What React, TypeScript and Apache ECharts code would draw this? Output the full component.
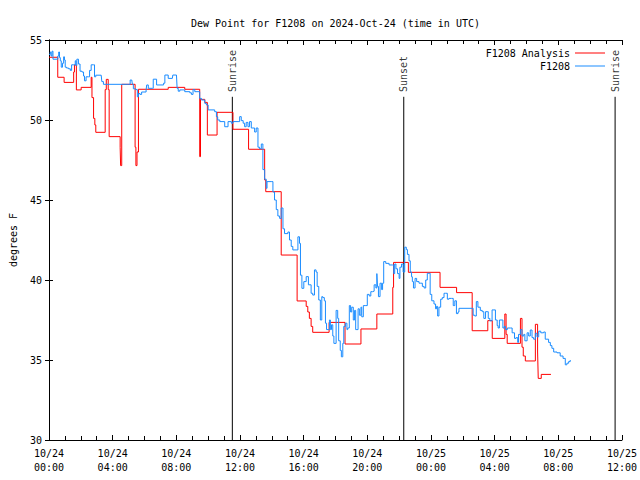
import React, { useEffect, useRef } from "react";
import * as echarts from "echarts";

// hours since 2024-10-24 00:00 UTC
const analysisHours = [
  0, 0.55, 0.95, 1.55, 1.6, 1.72, 2.02, 2.65, 2.7, 2.8, 2.88, 2.94, 3.53, 3.6, 3.72, 3.78,
  4.47, 4.5, 4.57, 5.41, 5.46, 5.53, 5.62, 7.49, 8.53, 9.47, 9.52, 9.79, 9.95, 10.56,
  11.56, 12.54, 13.55, 13.62, 14.59, 15.59, 16.16, 16.26, 16.36, 16.47, 16.57, 17.6,
  18.6, 19.6, 20.6, 21.6, 21.65, 22.58, 24.57, 25.61, 26.59, 27.57, 27.85, 28.64, 28.72,
  28.79, 29.62, 29.72, 29.8, 29.93, 30.56, 30.7, 30.74, 30.93, 31.54,
];
const analysisValues = [
  53.92, 52.67, 52.35, 53.0, 53.44, 51.88, 52.04, 52.67, 51.4, 50.1, 49.69, 49.23, 51.9, 52.54, 51.9, 48.96,
  48.3, 47.15, 52.23, 48.3, 47.15, 48.0, 51.92, 52.04, 51.92, 47.71, 51.29, 51.1, 49.06, 50.48,
  49.42, 48.17, 46.25, 45.52, 41.56, 38.69, 38.35, 38.0, 37.6, 37.1, 36.73, 37.35,
  36.0, 36.94, 37.875, 39.54, 41.1, 40.48, 39.54, 39.21, 36.83, 37.46, 36.35, 37.875, 36.6,
  36.04, 37.6, 35.8, 35.25, 34.94, 37.23, 35.5, 33.85, 34.1, 34.1,
];

const obsHours = [
  0, 0.08, 0.13, 0.19, 0.25, 0.5, 0.55, 0.61, 0.66, 0.71, 0.77, 0.85, 0.92, 0.97, 1.02, 1.1,
  1.23, 1.34, 1.42, 1.55, 1.65, 1.7, 1.75, 1.85, 1.95, 2.07, 2.17, 2.23, 2.33, 2.48, 2.55,
  2.65, 2.8, 2.86, 2.94, 3.28, 3.32, 3.42, 4.99, 5.1, 5.2, 5.24, 5.3, 5.45, 5.55, 5.62, 5.72,
  5.82, 6.1, 6.14, 6.24, 6.5, 6.55, 6.76, 7.1, 7.2, 7.28, 7.49, 7.75, 7.78, 8.01, 8.05, 8.12,
  8.22, 8.53, 8.85, 8.95, 9.05, 9.16, 9.47, 9.58, 9.79, 9.89, 10.0, 10.41, 10.52, 10.6, 10.73,
  11.04, 11.25, 11.46, 11.56, 11.88, 11.98,
  12.08, 12.2, 12.29, 12.39, 12.5, 12.6, 12.71, 12.81, 12.92, 13.02, 13.13, 13.23, 13.34,
  13.44, 13.55, 13.65, 13.7, 13.96, 14.07, 14.17, 14.28, 14.38, 14.49, 14.59, 14.7, 14.8,
  15.01, 15.11, 15.22, 15.32, 15.53, 15.64, 15.74, 15.8, 15.89, 16.01, 16.16, 16.3, 16.47,
  16.57, 16.68, 16.78, 16.85, 16.95, 17.05, 17.14,
  17.2, 17.3, 17.37, 17.44, 17.55, 17.62, 17.68, 17.75, 17.83, 17.9, 18.04, 18.14, 18.2,
  18.3, 18.37, 18.46, 18.52, 18.62, 18.72, 18.77, 18.87, 18.95, 19.02, 19.12, 19.2, 19.27,
  19.35, 19.42, 19.5, 19.6, 19.65, 19.75, 19.91, 20.0, 20.12, 20.22, 20.33, 20.43, 20.54,
  20.6, 20.64, 20.7, 20.8, 20.9, 20.96, 21.03, 21.16, 21.37, 21.58, 21.66, 21.72, 21.8,
  21.9, 22.0, 22.05, 22.15, 22.25, 22.35, 22.45, 22.52, 22.62, 22.7, 22.78, 22.83, 22.9,
  23.0, 23.1, 23.25, 23.36,
  23.46, 23.57, 23.67, 23.77, 23.88, 23.95, 24.05, 24.19, 24.29, 24.35, 24.42, 24.5, 24.61,
  24.71, 24.82, 24.92, 25.03, 25.13, 25.3, 25.4, 25.5, 25.6, 25.7, 25.76, 26.59, 26.65,
  26.75, 26.85, 26.95, 27.1, 27.22, 27.32, 27.43, 27.53, 27.6, 27.7, 27.84, 27.95, 28.05,
  28.16, 28.22, 28.3, 28.4, 28.52, 28.6, 28.68, 28.8, 28.99, 29.1, 29.25, 29.35, 29.45,
  29.5, 29.62, 29.72, 29.83, 29.9, 30.04, 30.14, 30.24, 30.35, 30.45, 30.56, 30.66, 30.77,
  30.9, 31.08, 31.18, 31.29, 31.39, 31.5, 31.6, 31.71, 31.92, 32.12, 32.3, 32.44, 32.54,
  32.65, 32.75,
];
const obsValues = [
  54.1, 54.25, 54.0, 54.3, 53.8, 53.8, 54.0, 54.25, 53.9, 53.7, 53.3, 53.55, 53.95, 53.75, 53.3, 53.25,
  53.2, 53.1, 53.45, 53.45, 53.7, 53.4, 53.8, 53.5, 53.05, 53.0, 52.75, 52.45, 52.7, 52.7, 53.1,
  53.45, 53.45, 52.7, 52.8, 52.8, 52.4, 52.23, 52.23, 52.5, 52.5, 52.23, 51.95, 51.9, 51.45, 51.65, 51.6,
  51.75, 51.88, 52.19, 51.98, 51.98, 52.55, 52.19, 52.19, 52.3, 52.81, 52.6, 52.6, 52.81, 52.81, 51.98, 51.8,
  51.88, 51.77, 51.7, 51.6, 51.9, 51.77, 51.35, 51.25, 51.04, 50.94, 50.63, 50.52, 50.2, 50.0, 49.9,
  49.58, 49.9, 49.8, 49.9, 49.9, 50.21,
  49.96, 49.8, 49.58, 49.85, 49.58, 49.9, 49.5, 49.5, 49.25, 49.5, 48.3, 48.2, 48.5,
  46.9, 46.3, 45.73, 46.15, 46.15, 45.5, 45.0, 44.4, 44.0, 43.85, 44.5, 43.2, 42.9,
  43.0, 42.5, 42.1, 41.88, 41.88, 42.7, 42.29, 40.3, 39.48, 39.9, 40.21, 39.7, 39.17,
  39.06, 40.63, 40.5, 39.6, 38.75, 37.5, 38.96,
  38.9, 38.7, 37.3, 36.9, 36.9, 37.5, 36.9, 37.2, 36.5, 36.04, 38.1, 37.6, 36.2,
  35.6, 35.2, 36.04, 37.1, 37.3, 36.9, 37.0, 38.4, 38.0, 38.3, 37.5, 38.1, 36.9,
  36.9, 38.2, 37.8, 38.3, 37.7, 38.4, 38.4, 39.1, 39.0, 39.27, 39.3, 39.7, 39.5,
  40.4, 39.6, 38.96, 39.8, 39.4, 39.8, 41.15, 41.04, 40.94, 40.94, 40.4, 41.0, 40.7,
  40.4, 40.1, 40.8, 41.0, 40.5, 42.05, 41.9, 41.6, 41.2, 40.5, 40.2, 39.9, 39.5,
  40.1, 39.9, 39.8, 39.8,
  39.6, 39.5, 40.0, 40.42, 40.42, 39.1, 38.7, 38.5, 38.2, 38.35, 37.75, 38.3, 38.8,
  38.9, 39.17, 39.17, 38.8, 38.85, 38.85, 38.4, 38.7, 37.9, 38.0, 38.23, 38.23, 37.8,
  37.75, 38.65, 38.3, 38.1, 38.02, 37.6, 38.02, 38.02, 37.6, 37.45, 38.13, 38.13, 37.5,
  37.15, 37.0, 37.5, 37.5, 37.0, 37.1, 36.9, 37.0, 37.0, 36.7, 36.35, 36.4, 36.1,
  36.6, 36.9, 36.5, 36.6, 36.2, 36.7, 36.5, 36.875, 36.4, 36.3, 36.67, 36.45, 36.8,
  36.7, 36.75, 36.3, 36.3, 36.1, 35.9, 35.73, 35.5, 35.45, 35.25, 35.1, 34.7, 34.8,
  34.9, 35.0,
];

const eventHours = [11.52, 22.29, 35.57];
const eventNames = ["Sunrise", "Sunset", "Sunrise"];
const eventLineTop = 51.45;
const eventLabelBase = 51.75;

const xMin = 0;
const xMax = 36;
const xStep = 4;
const yMin = 30;
const yMax = 55;
const yStep = 5;

const FONT = "DejaVu Sans Mono";

function fmtHour(h: number): string {
  const day = 24 + Math.floor(h / 24);
  const hh = Math.round(h % 24);
  return `10/${day}\n${String(hh).padStart(2, "0")}:00`;
}

export default function App() {
  const ref = useRef<HTMLDivElement>(null);
  useEffect(() => {
    if (!ref.current) return;
    const chart = echarts.init(ref.current, null, { renderer: "svg" });
    const analysisData = analysisHours.map((h, i) => [h, analysisValues[i]]);
    const obsData = obsHours.map((h, i) => [h, obsValues[i]]);

    const eventLineSeries = eventHours.map((t, i) => ({
      name: "event" + i,
      type: "line",
      data: [
        [t, yMin],
        [t, eventLineTop],
      ],
      symbol: "none",
      silent: true,
      lineStyle: { color: "#000", width: 1 },
      z: 1,
    }));

    const axisCommon = {
      axisLine: { lineStyle: { color: "#000", width: 1 } },
      splitLine: { show: false },
    };

    const legendCommon = {
      right: 30,
      align: "right",
      icon: "rect",
      itemWidth: 30,
      itemHeight: 1,
      textStyle: { fontFamily: FONT, fontSize: 10, color: "#000" },
    };

    chart.setOption({
      animation: false,
      backgroundColor: "#fff",
      title: {
        text: "Dew Point for F1208 on 2024-Oct-24 (time in UTC)",
        left: 186,
        top: 13,
        textStyle: { fontFamily: FONT, fontSize: 10, fontWeight: "normal", color: "#000" },
      },
      legend: [
        { ...legendCommon, data: ["F1208 Analysis"], top: 43 },
        { ...legendCommon, data: ["F1208"], top: 56 },
      ],
      grid: { left: 47, right: 18, top: 40, bottom: 40, containLabel: false },
      xAxis: [
        {
          type: "value",
          min: xMin,
          max: xMax,
          interval: xStep,
          ...axisCommon,
          axisTick: { inside: true, length: 5, lineStyle: { color: "#000" } },
          minorTick: { show: true, splitNumber: 4, length: 4, lineStyle: { color: "#000" } },
          minorSplitLine: { show: false },
          axisLabel: {
            formatter: (v: number) => fmtHour(v),
            fontFamily: FONT,
            fontSize: 10,
            color: "#000",
            margin: 6,
            lineHeight: 14,
          },
        },
        {
          type: "value",
          position: "top",
          min: xMin,
          max: xMax,
          interval: xStep,
          ...axisCommon,
          axisTick: { inside: true, length: 5, lineStyle: { color: "#000" } },
          minorTick: { show: true, splitNumber: 4, length: 4, lineStyle: { color: "#000" } },
          axisLabel: { show: false },
        },
      ],
      yAxis: [
        {
          type: "value",
          min: yMin,
          max: yMax,
          interval: yStep,
          ...axisCommon,
          name: "degrees F",
          nameLocation: "middle",
          nameRotate: 90,
          nameGap: 31,
          nameTextStyle: { fontFamily: FONT, fontSize: 10, color: "#000" },
          axisTick: { inside: true, length: 4, lineStyle: { color: "#000" } },
          axisLabel: { fontFamily: FONT, fontSize: 10, color: "#000", margin: 7 },
        },
        {
          type: "value",
          position: "right",
          min: yMin,
          max: yMax,
          interval: yStep,
          ...axisCommon,
          axisTick: { inside: true, length: 4, lineStyle: { color: "#000" } },
          axisLabel: { show: false },
        },
      ],
      series: [
        ...eventLineSeries,
        {
          name: "eventLabels",
          type: "scatter",
          data: eventHours.map((t) => [t, eventLabelBase]),
          symbolSize: 0,
          silent: true,
          label: {
            show: true,
            position: "inside",
            rotate: 90,
            align: "left",
            verticalAlign: "middle",
            formatter: (p: any) => eventNames[p.dataIndex],
            fontFamily: FONT,
            fontSize: 10,
            color: "#000",
          },
        },
        {
          name: "F1208 Analysis",
          type: "line",
          step: "end",
          data: analysisData,
          symbol: "none",
          color: "#ff0000",
          lineStyle: { color: "#ff0000", width: 1 },
          z: 2,
        },
        {
          name: "F1208",
          type: "line",
          step: "end",
          data: obsData,
          symbol: "none",
          color: "#1a8cff",
          lineStyle: { color: "#1a8cff", width: 1 },
          z: 3,
        },
      ],
    });
    return () => chart.dispose();
  }, []);
  return (
    <div
      ref={ref}
      style={{ position: "fixed", left: 0, top: 0, width: 640, height: 480, background: "#fff" }}
    />
  );
}
